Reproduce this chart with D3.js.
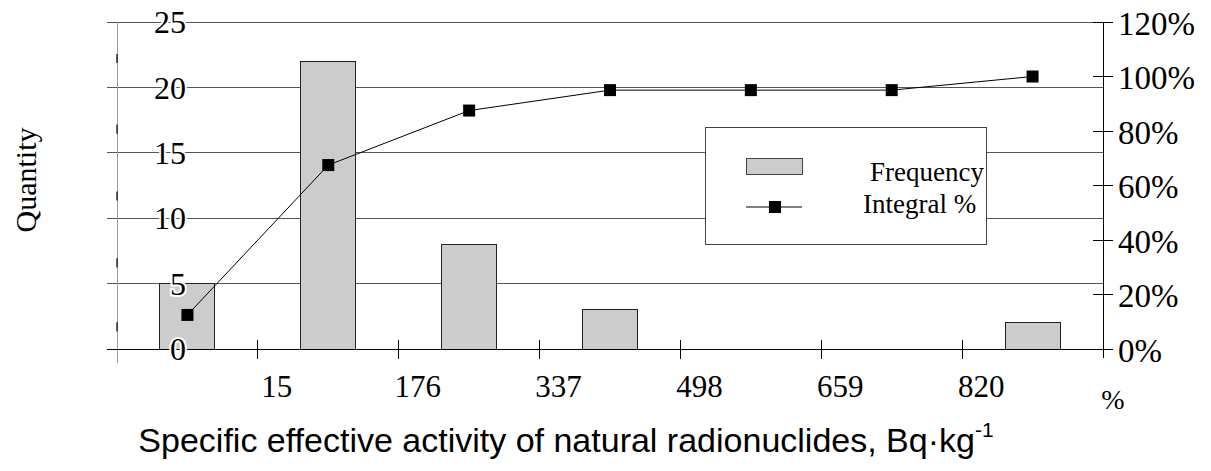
<!DOCTYPE html>
<html><head><meta charset="utf-8">
<script src="https://cdn.jsdelivr.net/npm/d3@7"></script>
<style>body{margin:0;background:#fff}</style>
</head><body><svg id="c" width="1211" height="471"></svg>
<script>
// ---- data ----
const categories = ["<15", "15–176", "176–337", "337–498", "498–659", "659–820", ">820"];
const frequency = [5, 22, 8, 3, 0, 0, 2];
const integralPct = [12.5, 67.5, 87.5, 95, 95, 95, 100];
const xTickLabels = ["15", "176", "337", "498", "659", "820"];
const leftTicks = [0, 5, 10, 15, 20, 25];
const rightTicks = [0, 20, 40, 60, 80, 100, 120];
const leftAxisDashes = [22.2, 16.8, 11.7, 6.6, 1.7];
const legendLabels = ["Frequency", "Integral %"];
const yTitle = "Quantity";
const xTitle = "Specific effective activity of natural radionuclides, Bq·kg";
const xTitleSup = "-1";
const rightUnit = "%";

// ---- layout ----
const L = 117, R = 1103, T = 22, B = 349;
const serif = "'Liberation Serif','Times New Roman',serif";
const sans = "'Liberation Sans',Arial,sans-serif";

const svg = d3.select("#c");
const x = d3.scaleBand().domain(categories).range([L, R]).paddingInner(0.61).paddingOuter(0.305);
const yL = d3.scaleLinear().domain([0, 25]).range([B, T]);
const yR = d3.scaleLinear().domain([0, 120]).range([B, T]);
const step = x.step();
const edge = i => L + step * i;

// gridlines
svg.append("g").selectAll("line").data(leftTicks.filter(d => d > 0)).join("line")
  .attr("x1", L - 10).attr("x2", R).attr("y1", d => yL(d)).attr("y2", d => yL(d))
  .attr("stroke", "#555").attr("stroke-width", 1).attr("shape-rendering", "crispEdges");

// left axis line (gray) + dashes
svg.append("line").attr("x1", L).attr("x2", L).attr("y1", T).attr("y2", B + 14)
  .attr("stroke", "#9a9a9a").attr("stroke-width", 1).attr("shape-rendering", "crispEdges");
svg.append("g").selectAll("line").data(leftAxisDashes).join("line")
  .attr("x1", L).attr("x2", L).attr("y1", d => yL(d) - 4.5).attr("y2", d => yL(d) + 4.5)
  .attr("stroke", "#000").attr("stroke-width", 1.2);

// right axis
svg.append("line").attr("x1", R).attr("x2", R).attr("y1", T).attr("y2", B + 9)
  .attr("stroke", "#000").attr("stroke-width", 1).attr("shape-rendering", "crispEdges");
svg.append("g").selectAll("line").data(rightTicks).join("line")
  .attr("x1", R - 10).attr("x2", R + 10).attr("y1", d => yR(d)).attr("y2", d => yR(d))
  .attr("stroke", "#000").attr("stroke-width", 1).attr("shape-rendering", "crispEdges");

// bars
svg.append("g").selectAll("rect").data(categories.map((c, i) => ({c, v: frequency[i]})).filter(d => d.v > 0)).join("rect")
  .attr("x", d => x(d.c)).attr("width", x.bandwidth())
  .attr("y", d => yL(d.v)).attr("height", d => yL(0) - yL(d.v))
  .attr("fill", "#cccccc").attr("stroke", "#222").attr("stroke-width", 1).attr("shape-rendering", "crispEdges");

// x axis
svg.append("line").attr("x1", L - 10).attr("x2", R).attr("y1", B).attr("y2", B)
  .attr("stroke", "#000").attr("stroke-width", 1).attr("shape-rendering", "crispEdges");
svg.append("g").selectAll("line").data(d3.range(1, categories.length)).join("line")
  .attr("x1", d => edge(d)).attr("x2", d => edge(d)).attr("y1", B - 9).attr("y2", B + 10)
  .attr("stroke", "#000").attr("stroke-width", 1).attr("shape-rendering", "crispEdges");

// cumulative line
const line = d3.line().x((d, i) => x(categories[i]) + x.bandwidth() / 2).y(d => yR(d));
svg.append("path").datum(integralPct).attr("d", line).attr("fill", "none").attr("stroke", "#000").attr("stroke-width", 1);
svg.append("g").selectAll("rect").data(integralPct).join("rect")
  .attr("x", (d, i) => x(categories[i]) + x.bandwidth() / 2 - 6).attr("y", d => yR(d) - 6)
  .attr("width", 12).attr("height", 12).attr("fill", "#000");

// left tick labels
svg.append("g").selectAll("text").data(leftTicks).join("text")
  .attr("x", 186).attr("y", d => yL(d)).attr("dy", "0.35em").attr("text-anchor", "end")
  .attr("font-family", serif).attr("font-size", 32)
  .attr("stroke", "#fff").attr("stroke-width", 4).attr("paint-order", "stroke").attr("fill", "#000")
  .text(d => d);

// right tick labels
svg.append("g").selectAll("text").data(rightTicks).join("text")
  .attr("x", 1118).attr("y", d => yR(d)).attr("dy", "0.38em")
  .attr("font-family", serif).attr("font-size", 33).attr("fill", "#000")
  .text(d => d + "%");

// x tick labels
svg.append("g").selectAll("text").data(xTickLabels).join("text")
  .attr("x", (d, i) => edge(i + 1) + 19).attr("y", 397).attr("text-anchor", "middle")
  .attr("font-family", serif).attr("font-size", 31).attr("fill", "#000")
  .text(d => d);
svg.append("text").attr("x", 1113).attr("y", 409).attr("text-anchor", "middle")
  .attr("font-family", serif).attr("font-size", 28).attr("fill", "#000").text(rightUnit);

// y title
svg.append("text").attr("transform", "translate(36,180) rotate(-90)").attr("text-anchor", "middle")
  .attr("font-family", serif).attr("font-size", 30).attr("fill", "#000").text(yTitle);

// x title
const xt = svg.append("text").attr("x", 566).attr("y", 452).attr("text-anchor", "middle")
  .attr("font-family", sans).attr("font-size", 34).attr("fill", "#000");
xt.append("tspan").text(xTitle);
xt.append("tspan").attr("font-size", 21).attr("dy", -15).text(xTitleSup);

// legend
const lg = svg.append("g");
lg.append("rect").attr("x", 705).attr("y", 127).attr("width", 281).attr("height", 117)
  .attr("fill", "#fff").attr("stroke", "#444").attr("stroke-width", 1).attr("shape-rendering", "crispEdges");
lg.append("rect").attr("x", 746).attr("y", 158).attr("width", 56).attr("height", 16)
  .attr("fill", "#cccccc").attr("stroke", "#444").attr("stroke-width", 1).attr("shape-rendering", "crispEdges");
lg.append("line").attr("x1", 746).attr("x2", 802).attr("y1", 207).attr("y2", 207).attr("stroke", "#000");
lg.append("rect").attr("x", 769).attr("y", 201).attr("width", 12).attr("height", 12).attr("fill", "#000");
lg.append("text").attr("x", 984).attr("y", 181).attr("text-anchor", "end")
  .attr("font-family", serif).attr("font-size", 27).text(legendLabels[0]);
lg.append("text").attr("x", 863).attr("y", 213)
  .attr("font-family", serif).attr("font-size", 27).text(legendLabels[1]);
</script></body></html>
